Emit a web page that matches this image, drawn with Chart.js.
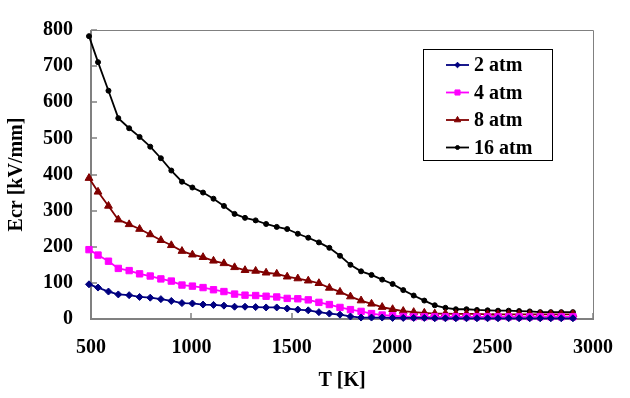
<!DOCTYPE html>
<html><head><meta charset="utf-8">
<script src="https://cdn.jsdelivr.net/npm/chart.js@4.4.1/dist/chart.umd.min.js"></script>
<style>html,body{margin:0;padding:0;background:#fff;}#wrap{width:630px;height:398px;}</style>
</head><body><div id="wrap"><canvas id="c" width="630" height="398"></canvas></div>
<script>
const TEMPS = [490, 535, 587, 636, 690, 742, 795, 848, 900, 953, 1005, 1058, 1110, 1162, 1215, 1267, 1320, 1372, 1425, 1477, 1530, 1582, 1635, 1687, 1740, 1792, 1845, 1897, 1950, 2002, 2055, 2107, 2160, 2212, 2265, 2317, 2370, 2422, 2475, 2527, 2580, 2632, 2685, 2737, 2790, 2842, 2900];
const E_2ATM = [96, 87, 76, 68, 66, 61, 59, 55, 50, 44, 43, 40, 39, 37, 34, 34, 33, 32, 32, 29, 26, 24, 19, 15, 12, 7, 4, 4, 4, 3, 3, 3, 3, 2, 2, 2, 2, 2, 2, 2, 2, 2, 2, 2, 2, 2, 2];
const E_4ATM = [192, 177, 160, 140, 134, 125, 119, 111, 105, 94, 91, 87, 81, 76, 69, 66, 65, 63, 61, 57, 56, 53, 46, 40, 32, 26, 21, 15, 11, 9, 7, 6, 6, 6, 6, 6, 6, 6, 6, 6, 6, 6, 6, 6, 6, 6, 6];
const E_8ATM = [390, 352, 313, 275, 262, 249, 234, 218, 204, 188, 178, 171, 161, 154, 143, 135, 133, 128, 125, 117, 112, 106, 99, 86, 75, 62, 51, 42, 33, 27, 22, 19, 17, 15, 15, 14, 14, 14, 13, 13, 13, 13, 13, 13, 13, 13, 13];
const E_16ATM = [783, 711, 632, 556, 528, 504, 477, 445, 411, 380, 364, 350, 333, 313, 291, 280, 273, 263, 255, 249, 236, 225, 212, 197, 175, 150, 132, 122, 109, 97, 80, 65, 51, 38, 31, 27, 27, 25, 24, 23, 23, 22, 21, 19, 19, 19, 19];
const SERIES_LABELS = ['2 atm', '4 atm', '8 atm', '16 atm'];
const X_TICKS = [500, 1000, 1500, 2000, 2500, 3000];
const Y_TICKS = [0, 100, 200, 300, 400, 500, 600, 700, 800];
const X_TITLE = 'T [K]';
const Y_TITLE = 'Ecr [kV/mm]';

const FONT = "'Liberation Serif', 'Times New Roman', serif";
const styles = [
  {color: '#000080', point: 'rectRot', r: 3.5},
  {color: '#FF00FF', point: 'rect', r: 4.5},
  {color: '#800000', point: 'triangle', r: 4.5},
  {color: '#000000', point: 'circle', r: 2.5}
];
const values = [E_2ATM, E_4ATM, E_8ATM, E_16ATM];

const datasets = values.map((arr, i) => ({
  label: SERIES_LABELS[i],
  data: TEMPS.map((t, k) => ({x: t, y: arr[k]})),
  borderColor: styles[i].color,
  backgroundColor: styles[i].color,
  pointBackgroundColor: styles[i].color,
  pointBorderColor: styles[i].color,
  pointStyle: styles[i].point,
  pointRadius: styles[i].r,
  pointBorderWidth: 1,
  borderWidth: 1.8,
  tension: 0,
  clip: false
}));

function drawMarker(ctx, style, r, x, y) {
  ctx.beginPath();
  if (style === 'rect') {
    const s = Math.SQRT1_2 * r;
    ctx.rect(x - s, y - s, 2 * s, 2 * s);
  } else if (style === 'rectRot') {
    ctx.moveTo(x, y - r); ctx.lineTo(x + r, y); ctx.lineTo(x, y + r); ctx.lineTo(x - r, y); ctx.closePath();
  } else if (style === 'triangle') {
    for (let k = 0; k < 3; k++) {
      const a = k * 2 * Math.PI / 3;
      const px = x + Math.sin(a) * r, py = y - Math.cos(a) * r;
      if (k === 0) ctx.moveTo(px, py); else ctx.lineTo(px, py);
    }
    ctx.closePath();
  } else {
    ctx.arc(x, y, r, 0, Math.PI * 2);
  }
  ctx.fill();
  ctx.stroke();
}

const framePlugin = {
  id: 'frame',
  beforeDatasetsDraw(chart) {
    const {ctx, chartArea: a, scales: {x, y}} = chart;
    ctx.save();
    ctx.strokeStyle = '#808080';
    ctx.lineWidth = 1;
    ctx.beginPath();
    ctx.moveTo(a.left, a.top + 0.5); ctx.lineTo(a.right + 0.5, a.top + 0.5); ctx.lineTo(a.right + 0.5, a.bottom);
    ctx.stroke();
    ctx.lineWidth = 2;
    ctx.beginPath();
    ctx.moveTo(a.left, a.top); ctx.lineTo(a.left, a.bottom); ctx.lineTo(a.right + 1, a.bottom);
    ctx.stroke();
    ctx.lineWidth = 1.5;
    ctx.beginPath();
    X_TICKS.forEach(v => {
      const px = Math.round(x.getPixelForValue(v));
      ctx.moveTo(px, a.bottom); ctx.lineTo(px, a.bottom - 6);
    });
    Y_TICKS.forEach(v => {
      const py = Math.round(y.getPixelForValue(v));
      ctx.moveTo(a.left, py); ctx.lineTo(a.left + 6, py);
    });
    ctx.stroke();
    ctx.restore();
  },
  afterDraw(chart) {
    const ctx = chart.ctx;
    ctx.save();
    ctx.fillStyle = '#fff';
    ctx.fillRect(423, 49, 129, 111);
    ctx.strokeStyle = '#000';
    ctx.lineWidth = 1;
    ctx.strokeRect(423.5, 49.5, 129, 111);
    const ys = [65, 92.5, 120, 147.5];
    ctx.font = "bold 20px " + FONT;
    ctx.textBaseline = 'middle';
    ctx.textAlign = 'left';
    SERIES_LABELS.forEach((lab, i) => {
      const st = styles[i];
      ctx.strokeStyle = st.color; ctx.fillStyle = st.color; ctx.lineWidth = 1.8;
      ctx.beginPath(); ctx.moveTo(446, ys[i]); ctx.lineTo(469, ys[i]); ctx.stroke();
      ctx.lineWidth = 1;
      drawMarker(ctx, st.point, st.r * 0.8, 457.5, ys[i]);
      ctx.fillStyle = '#000';
      ctx.fillText(lab, 474, ys[i] + 1);
    });
    ctx.restore();
  }
};

new Chart(document.getElementById('c'), {
  type: 'line',
  data: {datasets},
  options: {
    responsive: false,
    animation: false,
    devicePixelRatio: 1,
    layout: {padding: {top: 15, right: 20, left: 0, bottom: 0}},
    plugins: {legend: {display: false}, tooltip: {enabled: false}},
    scales: {
      x: {
        type: 'linear', min: 500, max: 3000,
        afterBuildTicks: s => { s.ticks = X_TICKS.map(v => ({value: v})); },
        afterFit: s => { s.height = 79; },
        grid: {display: false, drawTicks: false},
        border: {display: false},
        ticks: {padding: 17, color: '#000', font: {family: FONT, size: 20, weight: 'bold'}, maxRotation: 0, callback: v => String(v)},
        title: {display: true, text: X_TITLE, color: '#000', font: {family: FONT, size: 20, weight: 'bold'}, padding: {top: 0, bottom: 5}}
      },
      y: {
        type: 'linear', min: 0, max: 800,
        afterBuildTicks: s => { s.ticks = Y_TICKS.map(v => ({value: v})); },
        afterFit: s => { s.width = 91; },
        grid: {display: false, drawTicks: false},
        border: {display: false},
        ticks: {padding: 18, color: '#000', font: {family: FONT, size: 20, weight: 'bold'}, callback: v => String(v)},
        title: {display: true, text: Y_TITLE, color: '#000', font: {family: FONT, size: 20, weight: 'bold'}, padding: {top: 5, bottom: 0}}
      }
    }
  },
  plugins: [framePlugin]
});
</script>
</body></html>
